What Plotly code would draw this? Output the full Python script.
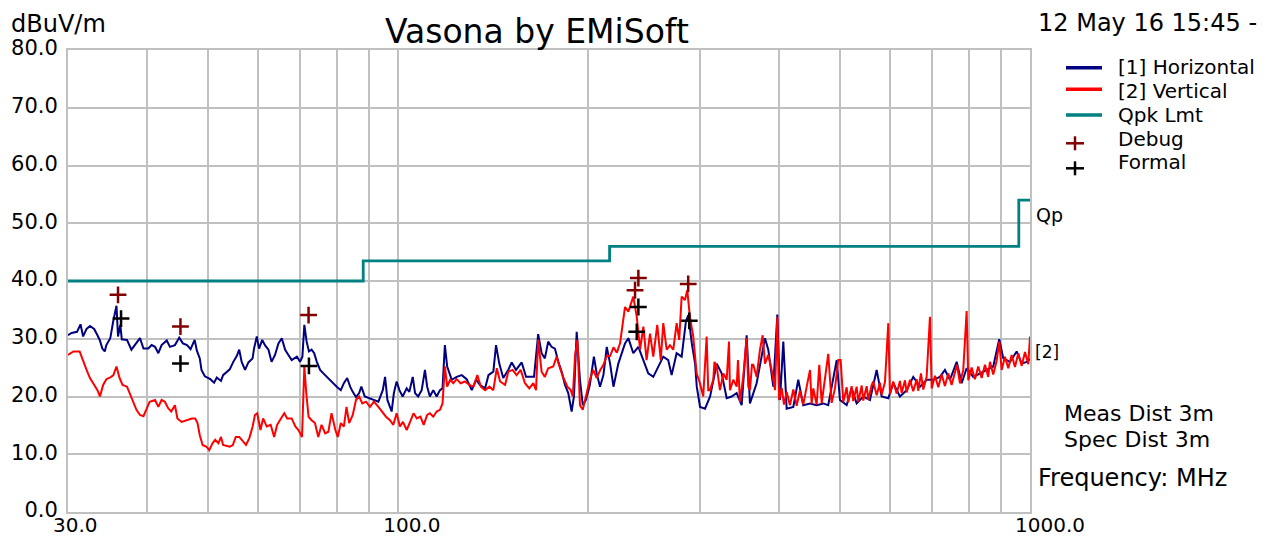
import plotly.graph_objects as go

# ---------------- data ----------------
# [1] Horizontal scan (MHz, dBuV/m)
h_freq = [30.0, 30.4, 31.0, 31.4, 31.7, 32.1, 32.5, 33.0, 33.4, 33.7, 34.0, 34.3, 34.5, 35.0, 35.4, 35.8,
          36.0, 36.3, 36.5, 37.2, 37.8, 38.3, 39.0, 39.5, 40.2, 40.7, 41.2, 41.7, 42.2, 43.0, 43.5, 44.3,
          45.0, 45.6, 46.3, 46.9, 47.6, 48.0, 48.5, 48.8, 49.4, 50.4, 51.1, 51.6, 52.4, 52.8, 53.5, 54.1,
          54.8, 55.5, 56.0, 56.5, 57.2, 57.9, 58.8, 59.1, 59.7, 60.2, 60.9, 61.5, 62.3, 63.0, 63.8, 64.6,
          65.4, 66.2, 67.0, 67.8, 69.1, 69.9, 70.5, 71.0, 71.6, 72.2, 72.9, 73.6, 74.3, 75.2, 76.1, 77.2,
          78.4, 79.9, 81.1, 82.0, 83.0, 83.9, 84.7, 85.7, 86.7, 87.4, 88.5, 90.2, 91.5, 93.0, 94.5, 95.3,
          96.1, 97.0, 97.6, 98.4, 99.4, 100.4, 101.6, 103.1, 104.1, 105.4, 106.3, 107.5, 108.9, 110.2,
          111.1, 112.2, 113.6, 115.0, 116.4, 117.5, 118.5, 119.5, 121.5, 123.7, 126.0, 128.3, 130.7,
          132.8, 134.7, 137.2, 138.9, 141.4, 142.8, 144.5, 146.6, 149.3, 151.2, 153.6, 156.8, 159.3,
          161.6, 164.0, 166.5, 168.6, 170.6, 172.7, 174.8, 177.0, 179.2, 181.4, 183.6, 185.8, 188.1,
          189.7, 191.6, 193.9, 195.9, 198.2, 201.0, 204.0, 206.1, 208.6, 211.2, 213.8, 216.4, 219.1,
          223.0, 228.5, 231.3, 235.5, 239.9, 244.3, 248.7, 253.3, 257.9, 262.7, 267.5, 270.8, 275.8,
          280.9, 285.3, 287.8, 291.5, 295.0, 296.8, 300.4, 305.9, 311.6, 319.2, 325.0, 331.0, 337.1,
          343.3, 349.6, 356.0, 360.3, 369.2, 380.6, 385.2, 392.3, 398.1, 402.0, 406.9, 411.9, 422.0,
          429.7, 437.6, 448.5, 459.5, 470.7, 479.3, 494.3, 500.2, 512.6, 522.0, 531.6, 544.6, 558.0,
          571.8, 582.3, 596.6, 607.5, 622.5, 637.9, 653.4, 669.6, 686.1, 702.8, 720.2, 733.4, 746.9,
          765.5, 779.5, 793.8, 813.2, 833.2, 853.8, 874.6, 894.0, 907.2, 929.5, 952.6, 970.1, 987.9, 1000.0]
h_level = [30.6, 31.0, 31.2, 32.5, 30.4, 31.7, 32.2, 31.7, 30.6, 29.7, 28.3, 27.8, 28.9, 30.1, 33.2, 35.7,
           30.4, 32.4, 29.9, 29.8, 28.1, 28.9, 30.1, 28.3, 28.3, 28.9, 28.6, 27.5, 28.9, 29.7, 28.6, 28.9,
           30.2, 29.2, 28.9, 28.2, 29.8, 27.9, 26.6, 24.6, 23.5, 23.0, 22.4, 23.3, 22.7, 23.7, 24.3, 24.7,
           26.0, 27.0, 28.1, 26.0, 24.6, 25.9, 26.6, 28.3, 30.4, 28.3, 29.8, 28.9, 28.1, 26.0, 27.2, 29.2,
           30.1, 28.1, 27.2, 26.3, 26.9, 26.0, 26.9, 32.4, 29.5, 27.8, 28.1, 27.5, 26.0, 24.6, 24.0, 23.3,
           22.7, 21.7, 21.1, 22.3, 23.2, 21.7, 20.8, 19.9, 20.6, 21.7, 20.0, 19.7, 19.4, 19.1, 21.1, 23.4,
           19.4, 18.0, 17.4, 20.6, 22.6, 21.1, 20.0, 21.4, 20.8, 23.4, 20.6, 20.0, 21.1, 24.6,
           21.7, 20.0, 21.1, 20.0, 21.1, 21.4, 28.9, 25.2, 22.9, 23.4, 23.7, 23.0, 21.1,
           22.9, 22.0, 21.4, 23.7, 24.3, 28.9, 25.7, 23.2, 24.6, 25.9, 24.6, 25.9, 23.4,
           23.4, 23.4, 30.8, 27.5, 26.6, 29.5, 28.6, 28.3, 26.0, 24.3, 22.0, 20.6, 17.4,
           20.0, 31.2, 22.9, 18.5, 19.4, 22.0, 26.9, 24.0, 21.7, 23.7, 28.6, 25.7, 21.7,
           25.7, 29.2, 30.1, 27.5, 28.6, 26.3, 24.0, 23.4, 25.2, 26.9, 26.3, 23.7, 27.5,
           26.9, 33.0, 34.1, 29.2, 25.7, 21.7, 18.2, 17.9, 20.0, 25.7, 24.0, 19.7, 20.0,
           20.6, 18.5, 30.6, 18.8, 22.3, 30.1, 28.1, 21.7, 34.2, 19.4, 29.5, 17.9, 18.2,
           22.9, 18.5, 18.8, 18.5, 18.8, 18.5, 26.3, 19.4, 18.5, 21.4, 18.8, 20.0, 19.4,
           24.6, 20.0, 19.7, 22.3, 20.0, 21.1, 23.4, 21.7, 22.9, 22.9, 23.4, 24.6, 22.9,
           26.0, 22.3, 24.9, 23.4, 24.0, 24.6, 25.2, 29.9, 26.6, 26.0, 27.8, 25.7, 26.0, 26.5]

# [2] Vertical scan (MHz, dBuV/m)
v_freq = [30.0, 30.6, 31.3, 31.7, 32.1, 32.5, 33.0, 33.4, 33.7, 34.1, 34.5, 35.0, 35.4, 35.8, 36.2, 36.6,
          37.2, 37.5, 38.0, 38.5, 39.0, 39.5, 40.0, 40.4, 41.2, 41.7, 42.2, 42.7, 43.2, 43.7, 44.3, 44.7,
          45.4, 46.3, 47.1, 47.7, 48.1, 48.5, 49.0, 49.7, 50.2, 50.8, 51.3, 51.9, 52.4, 52.8, 53.5, 54.1,
          54.7, 55.3, 56.0, 56.7, 57.4, 58.1, 58.8, 59.3, 59.8, 60.5, 61.1, 61.9, 62.8, 63.6, 64.3, 65.2,
          66.0, 66.7, 67.8, 68.7, 69.5, 70.4, 71.0, 71.5, 72.1, 72.9, 73.8, 74.7, 75.6, 76.6, 77.5, 78.4,
          79.5, 80.2, 81.1, 82.0, 82.8, 83.6, 84.7, 85.7, 86.7, 87.7, 88.9, 90.2, 91.5, 93.0, 94.5, 95.6,
          97.0, 98.2, 99.4, 100.6, 101.7, 103.1, 104.4, 105.7, 107.0, 108.4, 109.7, 111.1, 112.2, 113.6,
          115.0, 116.4, 117.5, 118.5, 119.5, 120.8, 122.2, 123.7, 125.5, 127.5, 129.6, 131.5, 133.4,
          135.1, 137.2, 139.4, 141.4, 143.2, 144.9, 147.6, 149.3, 151.7, 153.9, 156.2, 158.7, 161.2,
          163.6, 165.2, 166.5, 168.6, 170.6, 172.7, 175.9, 178.1, 180.3, 182.6, 185.2, 187.5, 188.9,
          190.5, 192.1, 193.9, 195.9, 198.8, 201.0, 203.5, 206.1, 208.6, 211.2, 213.8, 216.4, 219.1,
          221.8, 224.4, 226.6, 228.5, 231.3, 234.2, 235.5, 238.5, 241.4, 244.3, 247.2, 250.3, 253.3,
          257.0, 260.3, 262.7, 266.0, 269.2, 272.5, 275.8, 278.4, 280.9, 284.3, 286.7, 289.5, 293.0,
          296.7, 300.3, 303.9, 307.7, 309.5, 311.5, 315.2, 316.6, 319.2, 323.0, 327.0, 331.0, 333.8,
          335.0, 339.1, 343.3, 344.9, 347.4, 351.6, 356.0, 358.1, 360.3, 363.0, 364.7, 369.2, 373.7,
          377.4, 380.6, 385.2, 390.0, 394.8, 398.1, 400.6, 404.5, 407.9, 411.9, 416.9, 422.0, 427.2,
          432.3, 437.6, 443.1, 448.5, 451.2, 453.9, 459.5, 463.9, 468.0, 473.6, 479.3, 485.3, 491.2,
          497.1, 501.5, 506.3, 512.6, 515.6, 522.0, 525.0, 531.6, 534.8, 541.5, 544.6, 551.4, 554.6,
          561.5, 564.8, 571.8, 578.7, 582.3, 589.4, 596.6, 600.2, 607.5, 615.1, 622.5, 626.4, 634.0,
          637.9, 645.6, 653.4, 661.6, 665.4, 672.0, 677.7, 686.1, 694.4, 698.8, 707.2, 715.8, 724.7,
          733.4, 742.3, 751.6, 760.7, 766.3, 774.7, 784.1, 793.8, 798.5, 808.4, 818.2, 828.1, 838.4,
          848.6, 858.8, 864.2, 874.6, 885.6, 894.0, 901.9, 912.8, 923.8, 935.3, 946.7, 958.2, 970.1,
          981.9, 993.7, 1000.0]
v_level = [27.2, 27.8, 27.8, 26.0, 24.6, 23.2, 22.0, 21.1, 20.0, 22.0, 23.0, 23.3, 23.7, 25.2, 23.2, 22.0,
           21.7, 20.8, 19.1, 17.7, 16.8, 16.6, 18.0, 19.1, 19.4, 18.2, 19.4, 19.1, 18.0, 17.4, 18.5, 16.2,
           15.6, 15.9, 16.2, 16.2, 15.4, 13.3, 11.6, 11.3, 10.7, 11.9, 12.5, 11.9, 13.0, 11.6, 11.4, 11.3,
           11.6, 13.0, 13.0, 12.2, 11.6, 12.8, 14.8, 16.8, 17.1, 14.2, 16.2, 14.8, 15.1, 13.0, 15.1, 16.2,
           17.1, 16.2, 16.2, 14.8, 14.2, 13.0, 25.2, 20.6, 16.5, 15.9, 15.4, 13.0, 15.1, 13.6, 13.9, 17.1,
           14.2, 13.0, 15.4, 14.8, 18.2, 15.4, 16.8, 19.4, 20.0, 18.8, 19.1, 18.2, 19.1, 18.2, 17.1, 16.5,
           15.9, 15.1, 17.1, 14.8, 15.6, 14.2, 15.6, 17.1, 16.2, 16.5, 15.1, 16.8, 17.1, 16.5,
           17.4, 17.7, 18.8, 25.2, 21.7, 22.9, 22.3, 23.0, 22.3, 22.6, 22.0, 21.7, 23.7,
           21.7, 21.1, 21.7, 21.1, 24.9, 22.6, 22.0, 24.3, 24.6, 23.7, 24.6, 22.3, 21.4,
           22.3, 21.1, 29.8, 24.3, 23.4, 24.9, 25.2, 26.9, 24.9, 23.2, 21.7, 21.1, 20.0,
           27.2, 29.8, 18.5, 17.7, 20.5, 22.9, 24.6, 23.2, 24.5, 25.5, 27.0, 27.0, 28.5,
           27.6, 29.2, 32.7, 35.5, 34.7, 36.5, 37.3, 33.8, 28.1, 32.1, 26.3, 30.9, 26.9,
           32.4, 26.3, 32.7, 28.1, 28.9, 28.1, 32.7, 29.8, 37.3, 36.7, 38.4, 33.8, 30.4,
           24.0, 22.3, 20.0, 30.4, 21.1, 21.1, 22.9, 26.0, 25.2, 21.1, 24.0, 22.9, 29.5,
           21.1, 22.9, 21.7, 26.3, 19.1, 23.4, 30.1, 21.7, 21.1, 25.5, 25.5, 23.4, 28.1,
           30.6, 25.7, 27.2, 24.6, 21.1, 33.8, 19.4, 21.5, 18.6, 20.8, 18.5, 21.2, 18.4,
           21.0, 18.6, 21.7, 24.6, 18.7, 21.4, 18.6, 25.5, 18.8, 23.4, 27.4, 18.9, 21.4,
           26.3, 26.3, 19.0, 21.6, 19.0, 21.8, 19.2, 21.7, 19.1, 21.9, 19.3, 21.8, 19.4,
           22.0, 22.6, 20.2, 22.4, 20.3, 22.5, 32.7, 20.4, 22.6, 20.5, 22.7, 20.6, 22.8,
           20.7, 22.9, 20.9, 23.0, 21.0, 24.0, 21.2, 23.4, 33.8, 21.4, 23.6, 21.6, 23.8,
           21.8, 24.0, 22.0, 24.2, 25.5, 22.3, 24.6, 34.8, 22.8, 25.0, 23.0, 25.2, 23.2,
           25.5, 23.4, 26.0, 23.8, 26.2, 29.5, 24.6, 26.9, 24.9, 27.2, 25.1, 27.5, 25.3,
           27.7, 25.6, 30.4]

# Quasi-peak limit line
lim_freq = [30, 88, 88, 216, 216, 960, 960, 1000]
lim_level = [40, 40, 43.5, 43.5, 46, 46, 54, 54]

# Debug / Formal measurement points
debug_freq = [36.0, 45.2, 72.1, 237.0, 239.9, 287.7]
debug_level = [37.6, 32.1, 34.1, 38.4, 40.5, 39.5]
formal_freq = [36.4, 45.2, 72.2, 238.5, 239.9, 288.8]
formal_level = [33.5, 25.7, 25.3, 31.2, 35.5, 33.1]

# Axis ticks
x_tickvals = [30, 40, 50, 60, 70, 80, 90, 100, 200, 300, 400, 500, 600, 700, 800, 900, 1000]
x_ticktext = ["30.0", "", "", "", "", "", "", "100.0", "", "", "", "", "", "", "", "", "1000.0"]
y_tickvals = [0, 10, 20, 30, 40, 50, 60, 70, 80]
y_ticktext = ["0.0", "10.0", "20.0", "30.0", "40.0", "50.0", "60.0", "70.0", "80.0"]

legend_labels = ["[1] Horizontal", "[2] Vertical", "Qpk Lmt", "Debug", "Formal"]

# ---------------- figure ----------------
FONT = "DejaVu Sans"
NAVY = "#000080"
RED = "#ff0000"
TEAL = "#008080"
MAROON = "#800000"
GRID = "#c0c0c0"

# plot box as seen on the page (the page body adds an 8 px offset)
PAGE_OFF = 8
L, R, T, B = 68, 1030, 50, 512
W, H = 1279 - PAGE_OFF, 538 - PAGE_OFF


def px(x):
    return (x - L) / (R - L)


def py(y):
    return (B - y) / (B - T)


fig = go.Figure()
fig.add_trace(go.Scatter(x=lim_freq, y=lim_level, mode="lines",
                         line=dict(color=TEAL, width=2.8), name="Qpk Lmt"))
fig.add_trace(go.Scatter(x=h_freq, y=h_level, mode="lines",
                         line=dict(color=NAVY, width=2), name="[1] Horizontal"))
fig.add_trace(go.Scatter(x=v_freq, y=v_level, mode="lines",
                         line=dict(color=RED, width=2), name="[2] Vertical"))
fig.add_trace(go.Scatter(x=debug_freq, y=debug_level, mode="markers", name="Debug",
                         marker=dict(symbol="cross-thin", size=12, line=dict(color=MAROON, width=2.5))))
fig.add_trace(go.Scatter(x=formal_freq, y=formal_level, mode="markers", name="Formal",
                         marker=dict(symbol="cross-thin", size=12, line=dict(color="black", width=2.5))))

axis_common = dict(showgrid=True, gridcolor=GRID, gridwidth=2, showline=True, linecolor=GRID,
                   linewidth=2, mirror=True, ticks="", zeroline=False, automargin=False)

fig.update_layout(
    width=W, height=H,
    margin=dict(l=L - PAGE_OFF, r=1279 - R, t=T - PAGE_OFF, b=538 - B, autoexpand=False),
    paper_bgcolor="white", plot_bgcolor="white",
    showlegend=False,
    font=dict(family=FONT, color="black"),
    xaxis=dict(type="log", range=[1.4771212547, 3.0], tickvals=x_tickvals, ticktext=x_ticktext,
               ticklabelposition="outside right", ticklabelshift=-16, ticklabelstandoff=-6,
               tickfont=dict(family=FONT, size=20, color="black"), **axis_common),
    yaxis=dict(range=[0, 80], tickvals=y_tickvals, ticktext=y_ticktext,
               ticklabelshift=-2, ticklabelstandoff=4,
               tickfont=dict(family=FONT, size=21, color="black"), **axis_common),
)

annotations = [
    dict(text="Vasona by EMiSoft", x=px(537), y=py(31), xanchor="center", yanchor="middle", size=33),
    dict(text="dBuV/m", x=px(10), y=py(23.5), xanchor="left", yanchor="middle", size=24),
    dict(text="12 May 16 15:45 -", x=px(1037), y=py(23), xanchor="left", yanchor="middle", size=24),
    dict(text="Qp", x=px(1035), y=py(215), xanchor="left", yanchor="middle", size=19),
    dict(text="[2]", x=px(1034), y=py(352), xanchor="left", yanchor="middle", size=17),
    dict(text="Meas Dist 3m", x=px(1063), y=py(413), xanchor="left", yanchor="middle", size=22),
    dict(text="Spec Dist 3m", x=px(1063), y=py(439), xanchor="left", yanchor="middle", size=22),
    dict(text="Frequency: MHz", x=px(1037), y=py(478), xanchor="left", yanchor="middle", size=24),
]
legend_rows = [67.5, 90.5, 115, 139, 162]
for lab, yy in zip(legend_labels, legend_rows):
    annotations.append(dict(text=lab, x=px(1117), y=py(yy), xanchor="left", yanchor="middle", size=20))

fig.update_layout(annotations=[
    dict(text=a["text"], x=a["x"], y=a["y"], xref="paper", yref="paper", xanchor=a["xanchor"],
         yanchor=a["yanchor"], showarrow=False, borderpad=0,
         font=dict(family=FONT, size=a["size"], color="black"))
    for a in annotations
])

# legend samples
shapes = []
for col, yy in [(NAVY, 67.7), (RED, 89.3), (TEAL, 115)]:
    shapes.append(dict(type="line", xref="paper", yref="paper", x0=px(1066), x1=px(1102),
                       y0=py(yy), y1=py(yy), line=dict(color=col, width=3.5)))
for col, cy in [(MAROON, 143.3), ("black", 168.3)]:
    shapes.append(dict(type="line", xref="paper", yref="paper", x0=px(1066), x1=px(1084),
                       y0=py(cy), y1=py(cy), line=dict(color=col, width=2.5)))
    shapes.append(dict(type="line", xref="paper", yref="paper", x0=px(1075), x1=px(1075),
                       y0=py(cy - 7), y1=py(cy + 7), line=dict(color=col, width=2.5)))
fig.update_layout(shapes=shapes)

fig.write_html("out.html")
